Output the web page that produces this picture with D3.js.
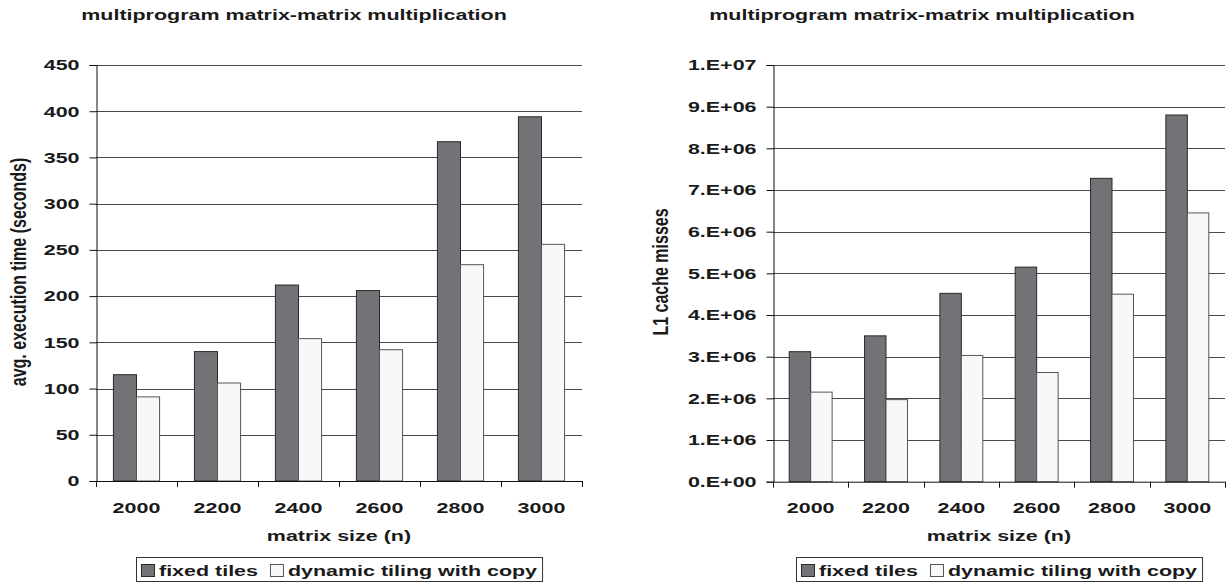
<!DOCTYPE html>
<html>
<head>
<meta charset="utf-8">
<script src="https://cdn.jsdelivr.net/npm/d3@7"></script>
<style>
  html, body { margin: 0; padding: 0; background: #ffffff; }
  svg { display: block; font-family: "Liberation Sans", Arial, sans-serif; }
</style>
</head>
<body>
<svg id="chart" width="1226" height="582"></svg>
<script>
// Matrix sizes used on the x axis of both panels
const matrixSizes = ["2000", "2200", "2400", "2600", "2800", "3000"];
const seriesNames = ["fixed tiles", "dynamic tiling with copy"];

// Average execution time (seconds)
const timeFixed   = [115, 140, 212, 206, 367, 394];
const timeDynamic = [91, 106, 154, 142, 234, 256];
const timeTicks   = [0, 50, 100, 150, 200, 250, 300, 350, 400, 450];

// L1 cache misses
const missFixed   = [3.12e6, 3.50e6, 4.52e6, 5.15e6, 7.28e6, 8.80e6];
const missDynamic = [2.15e6, 1.97e6, 3.03e6, 2.62e6, 4.50e6, 6.45e6];
const missTicks   = [0, 1e6, 2e6, 3e6, 4e6, 5e6, 6e6, 7e6, 8e6, 9e6, 1e7];
const missTickLabels = ["0.E+00", "1.E+06", "2.E+06", "3.E+06", "4.E+06", "5.E+06",
                        "6.E+06", "7.E+06", "8.E+06", "9.E+06", "1.E+07"];

const svg = d3.select("#chart");
const fills = ["#737377", "#f8f8f8"];
const strokes = ["#2a2a2a", "#555555"];
const WIDE = 1.43;          // horizontal widening of the lettering
const INK = "#1a1a1a";

// Widen horizontal text by a factor, keeping its anchor
function widen(sel, k) {
  sel.each(function () {
    const w = this.getComputedTextLength();
    d3.select(this).attr("textLength", w * k).attr("lengthAdjust", "spacingAndGlyphs");
  });
}

function drawPanel(opts) {
  const g = svg.append("g");
  const x = d3.scaleBand().domain(matrixSizes).range([opts.left, opts.right]);
  const y = d3.scaleLinear().domain([0, opts.max]).range([opts.bottom, opts.top]);
  const barW = x.bandwidth() * 0.285;

  // title
  g.append("text")
    .attr("x", opts.titleX).attr("y", 20)
    .attr("text-anchor", "middle")
    .attr("font-size", 15).attr("font-weight", "bold").attr("fill", INK)
    .text("multiprogram matrix-matrix multiplication")
    .call(widen, WIDE);

  // horizontal gridlines
  g.selectAll("line.grid").data(opts.ticks.filter(t => t > 0)).join("line")
    .attr("x1", opts.left).attr("x2", opts.right)
    .attr("y1", d => Math.round(y(d)) + 0.5).attr("y2", d => Math.round(y(d)) + 0.5)
    .attr("stroke", "#4a4a4a").attr("stroke-width", 1);

  // bars
  [opts.a, opts.b].forEach((vals, si) => {
    g.selectAll("rect.s" + si).data(vals).join("rect")
      .attr("x", (d, i) => x(matrixSizes[i]) + x.bandwidth() / 2 - barW + si * barW)
      .attr("y", d => y(d))
      .attr("width", barW)
      .attr("height", d => y(0) - y(d))
      .attr("fill", fills[si])
      .attr("stroke", strokes[si]).attr("stroke-width", 1);
  });

  // y axis
  const yAxis = d3.axisLeft(y).tickValues(opts.ticks).tickSize(7).tickPadding(10)
    .tickFormat((d, i) => opts.tickLabels[i]);
  const ya = g.append("g").attr("transform", `translate(${opts.left + 0.5},0)`).call(yAxis);
  ya.select(".domain").attr("stroke", "#111");
  ya.selectAll(".tick line").attr("stroke", "#111");
  ya.selectAll(".tick text").attr("font-size", 15).attr("font-weight", "bold")
    .attr("fill", INK).attr("font-family", "Liberation Sans, Arial, sans-serif")
    .call(widen, WIDE);

  // x axis baseline with ticks at category boundaries
  const xa = g.append("g");
  xa.append("line").attr("x1", opts.left).attr("x2", opts.right)
    .attr("y1", y(0) + 0.5).attr("y2", y(0) + 0.5).attr("stroke", "#111");
  const bounds = matrixSizes.map(c => x(c)).concat([opts.right]);
  xa.selectAll("line.tk").data(bounds).join("line")
    .attr("x1", d => Math.round(d) + 0.5).attr("x2", d => Math.round(d) + 0.5)
    .attr("y1", y(0)).attr("y2", y(0) + 6).attr("stroke", "#111");
  xa.selectAll("text").data(matrixSizes).join("text")
    .attr("x", d => x(d) + x.bandwidth() / 2).attr("y", 513)
    .attr("text-anchor", "middle").attr("font-size", 15).attr("font-weight", "bold")
    .attr("fill", INK).text(d => d)
    .call(widen, WIDE);

  // axis titles
  g.append("text")
    .attr("x", (opts.left + opts.right) / 2).attr("y", 541)
    .attr("text-anchor", "middle").attr("font-size", 15).attr("font-weight", "bold")
    .attr("fill", INK).text("matrix size (n)")
    .call(widen, WIDE);
  g.append("text")
    .attr("transform", `translate(${opts.yTitleX},${opts.yTitleY}) scale(${WIDE},1) rotate(-90)`)
    .attr("text-anchor", "middle").attr("font-size", 16).attr("font-weight", "bold")
    .attr("fill", INK).text(opts.yTitle);

  // legend, centred under the plot area
  const lg = g.append("g");
  const box = lg.append("rect").attr("x", 0.5).attr("y", 0.5).attr("height", 24)
    .attr("fill", "#ffffff").attr("stroke", "#333").attr("stroke-width", 1);
  let cx = 5;
  seriesNames.forEach((name, si) => {
    lg.append("rect").attr("x", cx + 0.5).attr("y", 7.5).attr("width", 13).attr("height", 12)
      .attr("fill", fills[si]).attr("stroke", strokes[si]);
    const t = lg.append("text").attr("x", cx + 18).attr("y", 19)
      .attr("font-size", 15).attr("font-weight", "bold").attr("fill", INK).text(name)
      .call(widen, WIDE);
    cx += 18 + (+t.attr("textLength")) + 12;
  });
  const boxW = cx - 7;
  box.attr("width", boxW);
  lg.attr("transform", `translate(${Math.round((opts.left + opts.right) / 2 - boxW / 2)},557)`);
}

drawPanel({
  left: 96, right: 582, top: 65, bottom: 481, max: 450,
  a: timeFixed, b: timeDynamic,
  ticks: timeTicks, tickLabels: timeTicks.map(String),
  titleX: 294,
  yTitle: "avg. execution time (seconds)", yTitleX: 26, yTitleY: 272
});

drawPanel({
  left: 773, right: 1225, top: 65, bottom: 481.7, max: 1e7,
  a: missFixed, b: missDynamic,
  ticks: missTicks, tickLabels: missTickLabels,
  titleX: 922,
  yTitle: "L1 cache misses", yTitleX: 668, yTitleY: 272
});
</script>
</body>
</html>
